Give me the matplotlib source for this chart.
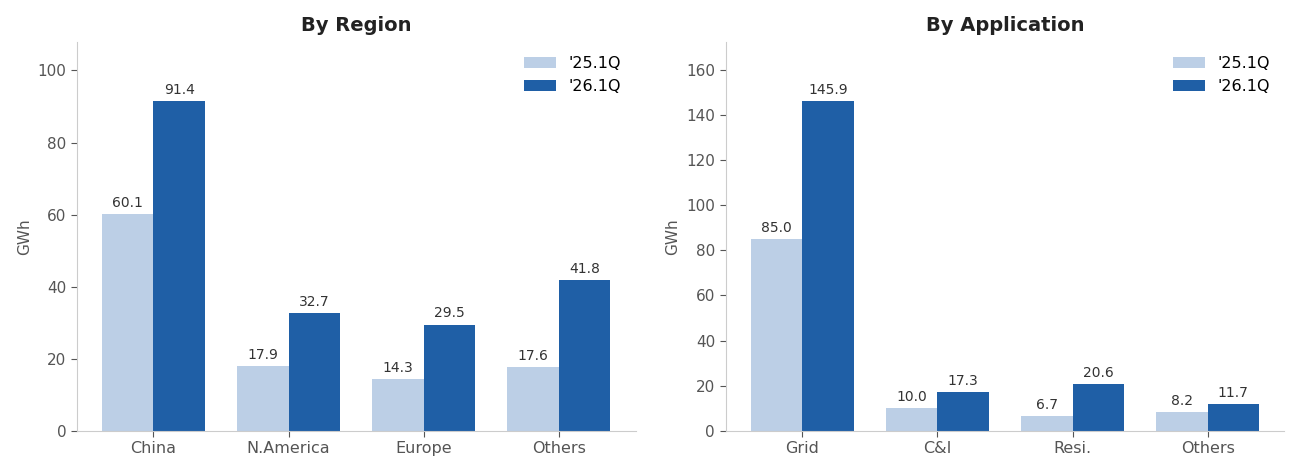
import matplotlib
matplotlib.use('Agg')
import matplotlib.pyplot as plt
import numpy as np

# Data
regions = ['China', 'N.America', 'Europe', 'Others']
region_25 = [60.1, 17.9, 14.3, 17.6]
region_26 = [91.4, 32.7, 29.5, 41.8]

apps = ['Grid', 'C&I', 'Resi.', 'Others']
app_25 = [85.0, 10.0, 6.7, 8.2]
app_26 = [145.9, 17.3, 20.6, 11.7]

series_labels = ["'25.1Q", "'26.1Q"]

plt.rcParams['font.family'] = ['DejaVu Sans']
light = '#bccfe6'
dark = '#1f5fa6'
width = 0.38

fig, axes = plt.subplots(1, 2, figsize=(13, 4.73), dpi=100)
fig.subplots_adjust(left=0.059, right=0.988, bottom=0.089, top=0.911, wspace=0.161)


def draw(ax, cats, v25, v26, title):
    x = np.arange(len(cats))
    b1 = ax.bar(x - width / 2, v25, width, color=light, label=series_labels[0])
    b2 = ax.bar(x + width / 2, v26, width, color=dark, label=series_labels[1])
    for bars in (b1, b2):
        ax.bar_label(bars, fmt='%.1f', padding=3, fontsize=10, color='#333333')
    ax.set_xticks(x)
    ax.set_xticklabels(cats, fontsize=11.5, color='#555555')
    ax.tick_params(axis='y', labelsize=11, labelcolor='#555555')
    ax.tick_params(colors='#555555', length=4, width=0.8)
    ax.set_ylabel('GWh', fontsize=11, color='#555555')
    ax.set_ylim(0, max(v26) * 1.18)
    ax.set_title(title, fontsize=14, fontweight='bold', color='#222222', pad=8)
    for s in ('top', 'right'):
        ax.spines[s].set_visible(False)
    for s in ('left', 'bottom'):
        ax.spines[s].set_color('#cccccc')
    ax.legend(frameon=False, fontsize=11.5, loc='upper right')


draw(axes[0], regions, region_25, region_26, 'By Region')
draw(axes[1], apps, app_25, app_26, 'By Application')
axes[1].set_yticks(range(0, 161, 20))

plt.savefig('out.png', dpi=100)
